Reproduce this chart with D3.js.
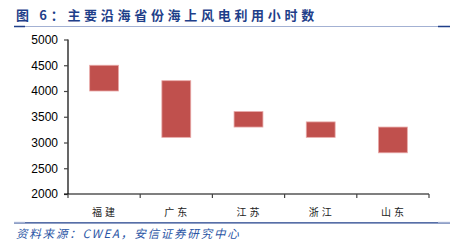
<!DOCTYPE html>
<html>
<head>
<meta charset="utf-8">
<script src="https://cdn.jsdelivr.net/npm/d3@7"></script>
<style>
  body { margin: 0; background: #fff; }
  svg { display: block; }
</style>
</head>
<body>
<svg id="viz" width="467" height="252"></svg>
<script>
// === DATA ===
const provinces = ["福建", "广东", "江苏", "浙江", "山东"];
const lowHours = [4000, 3100, 3300, 3100, 2800];
const highHours = [4500, 4200, 3600, 3400, 3300];
const yTicks = [2000, 2500, 3000, 3500, 4000, 4500, 5000];

const svg = d3.select("#viz");
const margin = { top: 39.5, right: 38, bottom: 58, left: 68 };
const plotWidth = 467 - margin.left - margin.right;
const plotHeight = 252 - margin.top - margin.bottom;

// title
svg.append("text")
  .attr("x", 16)
  .attr("y", 20)
  .attr("fill", "#1F3F8A")
  .style("font-family", "'Noto Sans CJK SC', sans-serif")
  .style("font-size", "13px")
  .style("font-weight", "bold")
  .style("letter-spacing", "3.7px")
  .text("图 6：主要沿海省份海上风电利用小时数");

// title rule
svg.append("line").attr("x1", 14).attr("x2", 450).attr("y1", 26.5).attr("y2", 26.5)
  .attr("stroke", "#A3B1D3").attr("stroke-width", 1);
svg.append("line").attr("x1", 14).attr("x2", 25).attr("y1", 26.5).attr("y2", 26.5)
  .attr("stroke", "#1F3F8A").attr("stroke-width", 1.5);
svg.append("line").attr("x1", 438).attr("x2", 450).attr("y1", 26.5).attr("y2", 26.5)
  .attr("stroke", "#1F3F8A").attr("stroke-width", 1.5);

const g = svg.append("g").attr("transform", `translate(${margin.left},${margin.top})`);

const x = d3.scaleBand()
  .domain(provinces)
  .range([0, plotWidth])
  .paddingInner(0.6)
  .paddingOuter(0.3);

const y = d3.scaleLinear()
  .domain([2000, 5000])
  .range([plotHeight, 0]);

// bars (floating: low -> high)
const rows = provinces.map((p, i) => ({ p, lo: lowHours[i], hi: highHours[i] }));
g.selectAll(".bar")
  .data(rows)
  .enter()
  .append("rect")
  .attr("x", d => x(d.p))
  .attr("width", x.bandwidth())
  .attr("y", d => y(d.hi))
  .attr("height", d => y(d.lo) - y(d.hi))
  .attr("fill", "#C0504D")
  .attr("stroke", "#E8A9A8")
  .attr("stroke-width", 0.8);

// y axis
const yAxis = g.append("g")
  .call(d3.axisLeft(y).tickValues(yTicks).tickSize(4).tickPadding(6).tickFormat(d3.format("d")));
yAxis.select(".domain").attr("stroke", "#000").attr("stroke-width", 1.2).attr("d", `M0,0V${plotHeight}`);
yAxis.selectAll(".tick line").attr("stroke", "#444").attr("stroke-width", 1.2);
yAxis.selectAll("text")
  .style("font-family", "'Liberation Sans', Arial, sans-serif")
  .style("font-size", "12px")
  .attr("fill", "#000");

// x axis: ticks at category boundaries
const xAxis = g.append("g").attr("transform", `translate(0,${plotHeight})`);
xAxis.append("line")
  .attr("x1", -4).attr("x2", plotWidth)
  .attr("stroke", "#000").attr("stroke-width", 1.2);
const bounds = d3.range(provinces.length + 1).map(i => i * plotWidth / provinces.length);
xAxis.selectAll(".xtick")
  .data(bounds)
  .enter()
  .append("line")
  .attr("x1", d => d).attr("x2", d => d)
  .attr("y1", 0).attr("y2", 4)
  .attr("stroke", "#444").attr("stroke-width", 1.2);
xAxis.selectAll(".xlabel")
  .data(provinces)
  .enter()
  .append("text")
  .attr("x", d => x(d) + x.bandwidth() / 2 + 1)
  .attr("y", 22)
  .attr("text-anchor", "middle")
  .attr("fill", "#222")
  .style("font-family", "'Noto Sans CJK SC', sans-serif")
  .style("font-size", "10px")
  .style("letter-spacing", "3px")
  .text(d => d);

// source rule
svg.append("line").attr("x1", 14).attr("x2", 450).attr("y1", 222.8).attr("y2", 222.8)
  .attr("stroke", "#1F3F8A").attr("stroke-width", 1.3);
svg.append("line").attr("x1", 14).attr("x2", 25).attr("y1", 222.5).attr("y2", 222.5)
  .attr("stroke", "#A3B1D3").attr("stroke-width", 1.3);
svg.append("line").attr("x1", 438).attr("x2", 450).attr("y1", 222.5).attr("y2", 222.5)
  .attr("stroke", "#A3B1D3").attr("stroke-width", 1.3);

// source
svg.append("text")
  .attr("x", 16)
  .attr("y", 238)
  .attr("fill", "#2A55A5")
  .style("font-family", "'Noto Sans CJK SC', sans-serif")
  .style("font-size", "11.5px")
  .style("font-style", "italic")
  .style("letter-spacing", "1.8px")
  .text("资料来源：CWEA，安信证券研究中心");
</script>
</body>
</html>
